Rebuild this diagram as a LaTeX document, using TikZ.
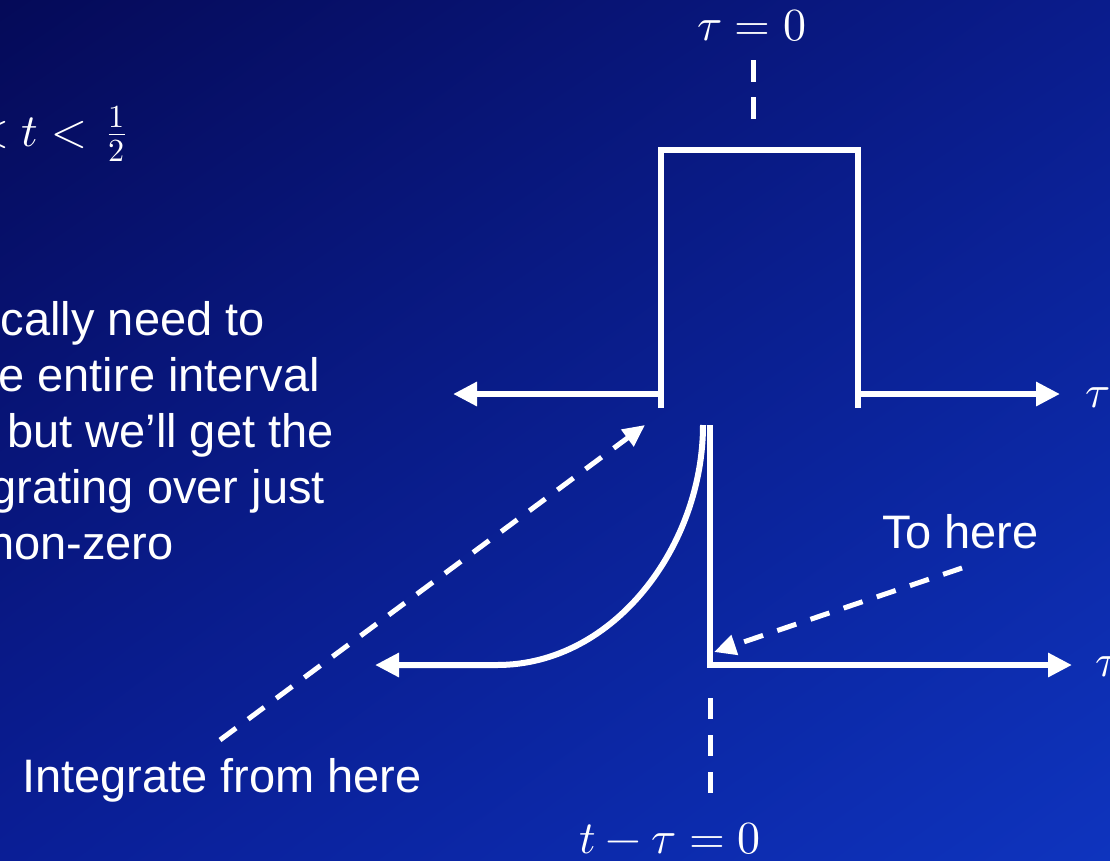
\documentclass[tikz,border=0pt]{standalone}
\usepackage{fontspec}
\usepackage{unicode-math}
\setmainfont{Liberation Sans}
\setmathfont{Latin Modern Math}
\usetikzlibrary{arrows.meta,shadings}
\definecolor{bgA}{RGB}{5,10,88}
\definecolor{bgB}{RGB}{10,28,140}
\definecolor{bgC}{RGB}{10,30,150}
\definecolor{bgD}{RGB}{14,52,190}
\begin{document}
\begin{tikzpicture}[x=1pt,y=-1pt,
  ax/.style={draw=white,line width=6pt,line join=miter},
  arr/.style={ax,-{Triangle[length=24pt,width=23pt]}},
  dsh/.style={draw=white,line width=5pt},
  darr/.style={dsh,dash pattern=on 20pt off 15pt,-{Triangle[length=22pt,width=20pt]}},
  txt/.style={text=white,inner sep=0pt,font=\fontsize{47}{56}\selectfont},
  mth/.style={text=white,inner sep=0pt,font=\fontsize{46}{55}\selectfont}]
\useasboundingbox (0,0) rectangle (1110,860);
\clip (0,0) rectangle (1110,860);
\shade[upper left=bgA, upper right=bgB, lower left=bgC, lower right=bgD] (0,0) rectangle (1110,860);

% key points
\coordinate (pl) at (661,408);
\coordinate (ptl) at (661,150);
\coordinate (ptr) at (858,150);
\coordinate (pr) at (858,408);
\coordinate (ual) at (661,394);
\coordinate (uat) at (453,394);
\coordinate (uar) at (858,394);
\coordinate (uart) at (1060,394);
\coordinate (lvt) at (710,425);
\coordinate (lvb) at (710,665);
\coordinate (lrt) at (1072,665);
\coordinate (ct) at (703,425);
\coordinate (cb) at (497,665);
\coordinate (llt) at (375,665);
\coordinate (dt1) at (753,60);
\coordinate (dt2) at (753,119);
\coordinate (db1) at (710,698);
\coordinate (db2) at (710,793);
\coordinate (a1s) at (220,740);
\coordinate (a1e) at (645,425);
\coordinate (a2s) at (962,568);
\coordinate (a2e) at (714,652);

% pulse and upper axis
\draw[ax] (pl) -- (ptl) -- (ptr) -- (pr);
\draw[arr] (ual) -- (uat);
\draw[arr] (uar) -- (uart);

% lower axis and curve
\draw[arr] (lvt) -- (lvb) -- (lrt);
\draw[arr] (ct) .. controls (703,545) and (615,665) .. (cb) -- (llt);

% dashed markers
\draw[dsh,dash pattern=on 22pt off 15pt] (dt1) -- (dt2);
\draw[dsh,dash pattern=on 21pt off 16pt] (db1) -- (db2);

% dashed arrows
\draw[darr] (a1s) -- (a1e);
\draw[darr] (a2s) -- (a2e);

% math labels
\node[mth,anchor=base] (tz) at (752,40) {$\tau = 0$};
\node[mth,anchor=base] (ttz) at (670,853) {$t - \tau = 0$};
\node[mth,anchor=base] (tu) at (1098,407) {$\tau$};
\node[mth,anchor=base west] (tl) at (1095,676) {$\tau$};
\node[mth,anchor=base west] (ineq) at (-27,146) {$< t < \mkern3mu\frac{1}{2}$};

% text
\node[txt,anchor=base east] (l1) at (265,335) {cally need to};
\node[txt,anchor=base east] (l2) at (320,391) {e entire interval};
\node[txt,anchor=base east] (l3) at (334,447) {but we’ll get the};
\node[txt,anchor=base east] (l4) at (325,503) {grating over just};
\node[txt,anchor=base east] (l5) at (174,559) {non-zero};
\node[txt,anchor=base east] (ifh) at (422,792) {Integrate from here};
\node[txt,anchor=base east] (th) at (1039,548) {To here};
\end{tikzpicture}
\end{document}
